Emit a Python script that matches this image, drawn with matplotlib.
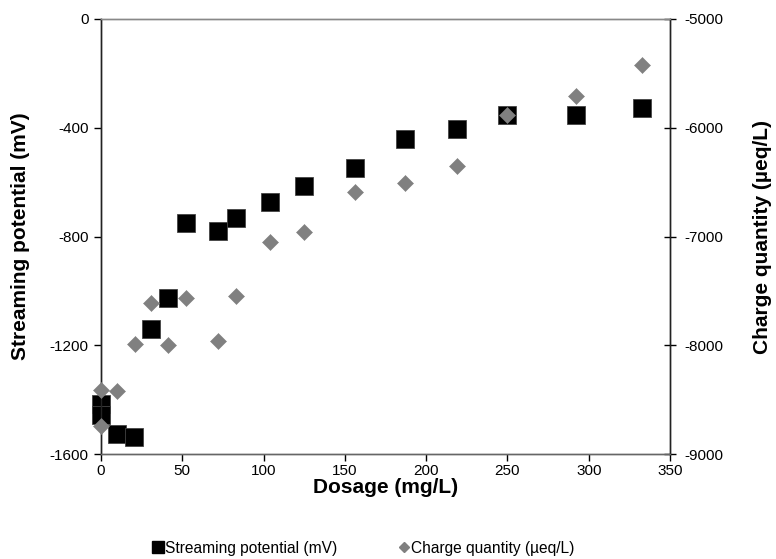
import matplotlib
matplotlib.use("Agg")
import matplotlib.pyplot as plt
from matplotlib.lines import Line2D

plt.rcParams['font.family'] = ['Liberation Sans', 'DejaVu Sans']
plt.rcParams['axes.unicode_minus'] = False

# Streaming potential (mV), left axis
sp_dose = [0, 0, 10, 20, 31, 41, 52, 72, 83, 104, 125, 156, 187, 219, 250, 292, 333]
sp_val = [-1415, -1455, -1527, -1536, -1142, -1025, -750, -778, -733, -674, -615, -548, -443, -404, -352, -352, -329]

# Charge quantity (µeq/L), right axis
cq_dose = [0, 0, 10, 21, 31, 41, 52, 72, 83, 104, 125, 156, 187, 219, 250, 292, 333]
cq_val = [-8411, -8740, -8418, -7989, -7614, -7995, -7566, -7957, -7544, -7048, -6956, -6594, -6508, -6349, -5883, -5711, -5423]

x_ticks = [0, 50, 100, 150, 200, 250, 300, 350]
left_ticks = [0, -400, -800, -1200, -1600]
right_ticks = [-5000, -6000, -7000, -8000, -9000]

W, H = 776, 559
fig = plt.figure(figsize=(W / 100, H / 100), dpi=100)
ax = fig.add_axes([101 / W, 1 - 454 / H, (670 - 101) / W, (454 - 19) / H])
ax2 = ax.twinx()

ax.plot(sp_dose, sp_val, linestyle='none', marker='s', markersize=12.4, clip_on=False,
        markerfacecolor='black', markeredgecolor='#444444', markeredgewidth=0.6, zorder=3)
ax2.plot(cq_dose, cq_val, linestyle='none', marker='D', markersize=8.6, clip_on=False,
         markerfacecolor='#808080', markeredgecolor='#808080', markeredgewidth=0.4, zorder=3)

ax.set_xlim(0, 350)
ax.set_ylim(-1600, 0)
ax2.set_ylim(-9000, -5000)
ax.set_xticks(x_ticks)
ax.set_yticks(left_ticks)
ax2.set_yticks(right_ticks)

for a in (ax, ax2):
    a.spines['top'].set_color('#888888')
    a.spines['bottom'].set_color('#666666')
    a.spines['left'].set_color('#222222')
    a.spines['right'].set_color('#222222')
    for s in a.spines.values():
        s.set_linewidth(1.0)

ax.tick_params(axis='x', direction='out', length=5, width=1, colors='black', labelsize=11, pad=2)
ax.tick_params(axis='y', direction='out', length=5, width=1, colors='black', labelsize=11, pad=4)
ax2.tick_params(axis='y', direction='inout', length=8, width=1, colors='black', labelsize=11, pad=6)

ax.set_xlabel('Dosage (mg/L)', fontsize=15, fontweight='bold', labelpad=0)
ax.set_ylabel('Streaming potential (mV)', fontsize=15, fontweight='bold', labelpad=14)
ax2.set_ylabel('Charge quantity (µeq/L)', fontsize=15, fontweight='bold', labelpad=22, rotation=90)

handles = [
    Line2D([], [], linestyle='none', marker='s', markersize=8, markerfacecolor='black', markeredgecolor='black'),
    Line2D([], [], linestyle='none', marker='D', markersize=5.5, markerfacecolor='#808080', markeredgecolor='#808080'),
]
fig.legend(handles, ['Streaming potential (mV)', 'Charge quantity (µeq/L)'],
           loc='center', bbox_to_anchor=(364 / W, 1 - 548 / H), ncol=2, frameon=False,
           fontsize=11.2, handlelength=0.6, handletextpad=0.15, columnspacing=4.0)

fig.savefig('out.png', dpi=100)
